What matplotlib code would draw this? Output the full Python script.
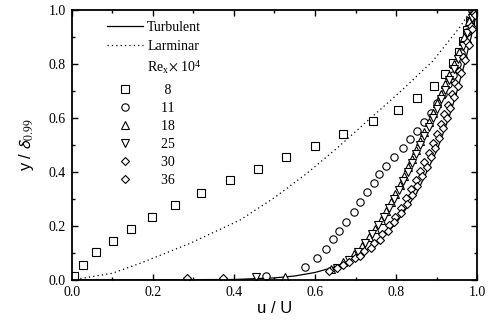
import numpy as np
import matplotlib
matplotlib.use("Agg")
import matplotlib.pyplot as plt
from matplotlib.lines import Line2D
from matplotlib.ticker import MultipleLocator, FormatStrFormatter

plt.rcParams['font.family'] = ['Liberation Serif', 'DejaVu Serif']
plt.rcParams['mathtext.fontset'] = 'stix'

# turbulent profile (solid)
turb_u = [0.0, 0.40, 0.50, 0.55, 0.60, 0.65, 0.70, 0.75, 0.80, 0.85, 0.90, 0.93, 0.95, 0.97, 0.985, 1.0]
turb_y = [0.0, 0.002, 0.008, 0.015, 0.028, 0.049, 0.082, 0.133, 0.21, 0.32, 0.478, 0.60, 0.698, 0.808, 0.90, 1.0]

# laminar profile (dotted)
lam_u = [0.0, 0.1, 0.169, 0.292, 0.415, 0.498, 0.58, 0.654, 0.73, 0.81, 0.89, 0.958, 0.985]
lam_y = [0.0, 0.025, 0.062, 0.136, 0.222, 0.303, 0.395, 0.488, 0.59, 0.697, 0.81, 0.938, 1.0]

# Re_x = 8e4
u8 = [0.006, 0.027, 0.061, 0.103, 0.146, 0.199, 0.255, 0.319, 0.39, 0.46, 0.529, 0.599,
      0.669, 0.743, 0.805, 0.852, 0.893, 0.92, 0.94, 0.955, 0.966, 0.976, 0.983, 0.99]
y8 = [0.015, 0.057, 0.103, 0.146, 0.19, 0.232, 0.278, 0.323, 0.37, 0.41, 0.456, 0.497,
      0.542, 0.588, 0.631, 0.675, 0.719, 0.763, 0.805, 0.845, 0.885, 0.925, 0.96, 0.995]

# Re_x = 11e4
u11 = [0.48, 0.576, 0.606, 0.627, 0.644, 0.659, 0.677, 0.697, 0.711, 0.729, 0.745, 0.758,
       0.776, 0.794, 0.816, 0.835, 0.851, 0.868, 0.885, 0.90, 0.915, 0.928, 0.94, 0.95,
       0.96, 0.968, 0.975, 0.982, 0.987]
y11 = [0.015, 0.049, 0.083, 0.116, 0.151, 0.183, 0.215, 0.251, 0.288, 0.327, 0.36, 0.391,
       0.423, 0.457, 0.488, 0.522, 0.553, 0.586, 0.62, 0.655, 0.69, 0.725, 0.76, 0.80,
       0.84, 0.88, 0.92, 0.96, 1.0]

# Re_x = 18e4
u18 = [0.527, 0.64, 0.67, 0.695, 0.715, 0.732, 0.748, 0.762, 0.775, 0.787, 0.798, 0.809,
       0.82, 0.83, 0.84, 0.85, 0.86, 0.87, 0.88, 0.89, 0.90, 0.91, 0.92, 0.93, 0.942,
       0.955, 0.968, 0.98, 0.99]
y18 = [0.012, 0.04, 0.065, 0.095, 0.125, 0.158, 0.19, 0.222, 0.255, 0.288, 0.32, 0.352,
       0.385, 0.418, 0.45, 0.483, 0.516, 0.55, 0.585, 0.62, 0.655, 0.69, 0.725, 0.76, 0.80,
       0.845, 0.90, 0.96, 1.0]

# Re_x = 25e4
u25 = [0.455, 0.655, 0.683, 0.705, 0.724, 0.741, 0.756, 0.77, 0.783, 0.795, 0.807, 0.818,
       0.829, 0.84, 0.85, 0.86, 0.87, 0.88, 0.89, 0.90, 0.91, 0.92, 0.931, 0.942, 0.953,
       0.964, 0.976, 0.988]
y25 = [0.012, 0.045, 0.075, 0.105, 0.137, 0.17, 0.202, 0.235, 0.268, 0.30, 0.333, 0.366,
       0.40, 0.433, 0.466, 0.50, 0.533, 0.567, 0.60, 0.635, 0.67, 0.705, 0.742, 0.78, 0.82,
       0.865, 0.915, 0.97]

# Re_x = 30e4
u30 = [0.284, 0.634, 0.668, 0.698, 0.722, 0.745, 0.765, 0.782, 0.798, 0.812, 0.825, 0.837,
       0.849, 0.86, 0.87, 0.88, 0.89, 0.90, 0.91, 0.919, 0.928, 0.937, 0.946, 0.955, 0.965,
       0.975, 0.985, 0.993]
y30 = [0.006, 0.034, 0.055, 0.08, 0.108, 0.138, 0.17, 0.202, 0.235, 0.268, 0.302, 0.336,
       0.37, 0.404, 0.438, 0.472, 0.507, 0.542, 0.578, 0.614, 0.65, 0.69, 0.73, 0.775, 0.825,
       0.88, 0.94, 0.99]

# Re_x = 36e4
u36 = [0.374, 0.654, 0.685, 0.712, 0.738, 0.76, 0.779, 0.796, 0.812, 0.826, 0.84, 0.852,
       0.864, 0.875, 0.886, 0.896, 0.906, 0.916, 0.925, 0.934, 0.943, 0.952, 0.961, 0.97,
       0.979, 0.988, 0.995]
y36 = [0.008, 0.043, 0.065, 0.09, 0.12, 0.15, 0.182, 0.215, 0.248, 0.282, 0.316, 0.35,
       0.385, 0.42, 0.455, 0.49, 0.525, 0.562, 0.60, 0.638, 0.678, 0.72, 0.765, 0.815, 0.87,
       0.93, 0.98]

re_labels = ['8', '11', '18', '25', '30', '36']
markers = ['s', 'o', '^', 'v', 'D', 'D']
series = [(u8, y8), (u11, y11), (u18, y18), (u25, y25), (u30, y30), (u36, y36)]
msizes = [5.4, 5.3, 5.6, 5.6, 4.4, 4.4]

fig = plt.figure(figsize=(4.94, 3.23), dpi=100)
ax = fig.add_axes([0.145, 0.133, 0.821, 0.836])

dots = (0, (1, 2.5))
ax.plot(turb_u, turb_y, color='black', lw=0.9)
ax.plot(lam_u, lam_y, color='black', lw=0.9, linestyle=dots)

for (u, y), m, ms in zip(series, markers, msizes):
    ax.plot(u, y, linestyle='none', marker=m, ms=ms, mfc='white', mec='black', mew=0.8)

ax.set_xlim(0, 1.0)
ax.set_ylim(0, 1.0)
ax.xaxis.set_major_locator(MultipleLocator(0.2))
ax.xaxis.set_minor_locator(MultipleLocator(0.1))
ax.yaxis.set_major_locator(MultipleLocator(0.2))
ax.yaxis.set_minor_locator(MultipleLocator(0.1))
ax.xaxis.set_major_formatter(FormatStrFormatter('%.1f'))
ax.yaxis.set_major_formatter(FormatStrFormatter('%.1f'))
ax.tick_params(which='both', direction='in', top=True, right=True, labelsize=10, width=1.0)
ax.tick_params(which='major', length=4, pad=4)
ax.tick_params(which='minor', length=2)
for s in ax.spines.values():
    s.set_linewidth(1.3)

ax.set_xlabel('u / U', family='Liberation Sans', fontsize=12, labelpad=2)
ax.set_ylabel(r'y / $\mathsf{\delta}_{0.99}$', family='Liberation Sans', fontsize=12, labelpad=9)

# legend: lines + Re header
h1 = [Line2D([], [], color='black', lw=0.9),
      Line2D([], [], color='black', lw=0.9, linestyle=dots),
      Line2D([], [], linestyle='none')]
l1 = ['Turbulent', 'Larminar', r'Re$_\mathregular{x}$$\times$ 10$^\mathregular{4}$']
leg_kw = dict(loc='upper left', frameon=False, borderpad=0, handlelength=2.6,
              handletextpad=0.3, fontsize=10, numpoints=1)
leg1 = ax.legend(h1, l1, bbox_to_anchor=(0.07, 0.986), labelspacing=0.42, **leg_kw)
ax.add_artist(leg1)

# legend: markers
h2, l2 = [], []
for m, ms, lab in zip(markers, msizes, re_labels):
    h2.append(Line2D([], [], linestyle='none', marker=m, ms=ms, mfc='white', mec='black', mew=0.8))
    l2.append(' ' * (5 if len(lab) == 1 else 4) + lab)
ax.legend(h2, l2, bbox_to_anchor=(0.07, 0.753), labelspacing=0.36, **leg_kw)

fig.savefig('out.png', dpi=100)
